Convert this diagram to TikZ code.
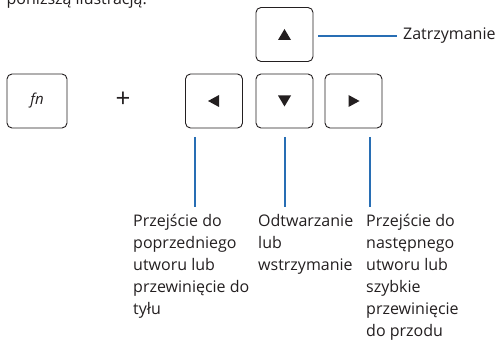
\documentclass[tikz,border=0pt]{standalone}
\usepackage{fontspec}
\setmainfont{Open Sans}
\definecolor{txt}{RGB}{35,31,32}
\definecolor{lnk}{RGB}{40,110,180}
\tikzset{
  keybox/.style={draw=txt, line width=0.9pt, rounded corners=5pt, minimum width=57pt, minimum height=54pt, inner sep=0pt},
  tri/.style={fill=txt},
  conn/.style={draw=lnk, line width=1.1pt},
  lbl/.style={text=txt, font=\fontsize{16}{22}\selectfont, align=left, inner sep=0pt, anchor=north west},
}
\begin{document}
\begin{tikzpicture}[x=1pt,y=-1pt]
\useasboundingbox (0,0) rectangle (498,342);
\clip (0,0) rectangle (498,342);
% clipped heading
\node[text=txt, font=\fontsize{16}{20}\selectfont, anchor=base east, inner sep=0pt] (head) at (147,5) {poniższą ilustracją.};
% keys
\node[keybox, minimum width=60pt] (fn) at (37,101) {\fontsize{15}{15}\selectfont\itshape\color{txt} fn};
\node[text=txt, font=\fontsize{26}{26}\selectfont, inner sep=0pt] (plus) at (123,100) {+};
\node[keybox] (left) at (214,101) {};
\node[keybox] (down) at (284.5,101) {};
\node[keybox] (right) at (353.5,101) {};
\node[keybox] (up) at (284.5,34.5) {};
% triangles
\fill[tri] (up.center) ++(0,-5.5) -- ++(6.5,11) -- ++(-13,0) -- cycle;
\fill[tri] (down.center) ++(0,5.5) -- ++(6.5,-11) -- ++(-13,0) -- cycle;
\fill[tri] (left.center) ++(-6,0) -- ++(11,-6) -- ++(0,12) -- cycle;
\fill[tri] (right.center) ++(6,0) -- ++(-11,-6) -- ++(0,12) -- cycle;
% labels
\node[text=txt, font=\fontsize{16}{22}\selectfont, anchor=west, inner sep=0pt] (zat) at (403,36) {Zatrzymanie};
\node[lbl] (t1) at (133,214) {Przejście do\\poprzedniego\\utworu lub\\przewinięcie do\\tyłu};
\node[lbl] (t2) at (258,214) {Odtwarzanie\\lub\\wstrzymanie};
\node[lbl] (t3) at (366,214) {Przejście do\\następnego\\utworu lub\\szybkie\\przewinięcie\\do przodu};
% connectors
\coordinate (z0) at (318,36);
\coordinate (z1) at (397,36);
\draw[conn] (z0) -- (z1);
\coordinate (a0) at (195,137);
\coordinate (a1) at (195,207);
\coordinate (b0) at (285,137);
\coordinate (b1) at (285,207);
\coordinate (c0) at (370,137);
\coordinate (c1) at (370,207);
\draw[conn] (a0) -- (a1);
\draw[conn] (b0) -- (b1);
\draw[conn] (c0) -- (c1);
\end{tikzpicture}
\end{document}
